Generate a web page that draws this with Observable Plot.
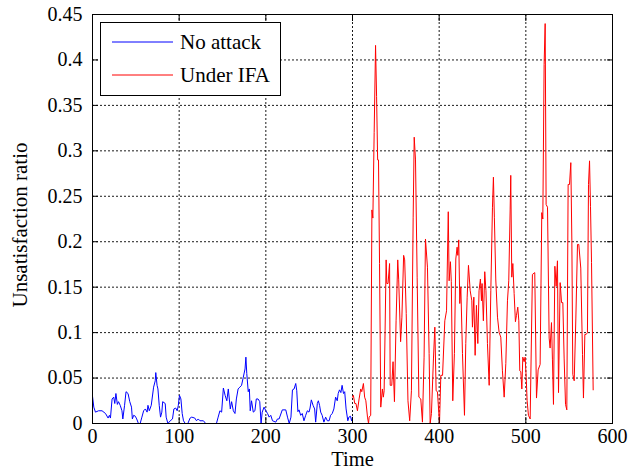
<!DOCTYPE html>
<html><head><meta charset="utf-8">
<script src="https://cdn.jsdelivr.net/npm/d3@7"></script>
<script src="https://cdn.jsdelivr.net/npm/@observablehq/plot@0.6"></script>
<style>body{margin:0;background:#fff;} svg{display:block}</style>
</head><body><div id="chart"></div>
<script>
const xTicks = [0, 100, 200, 300, 400, 500, 600];
const yTicks = [0, 0.05, 0.1, 0.15, 0.2, 0.25, 0.3, 0.35, 0.4, 0.45];
const seriesNames = ["No attack", "Under IFA"];
const seriesColors = ["#0000ff", "#ff0000"];

const noAttackTime = [0,1.5,3.4,7,11,15,18,19.5,20.7,22.6,24.5,25.7,27,28.7,30,32,34,35,37,38.7,41,43,45,46,47.5,49.4,51,53,55,57,59,61,63,64,65.5,67.8,70.5,72.4,73,74.5,75.5,77,78.5,80,81,83.9,85,87,89.7,92.3,93.9,96,97.7,99,100.4,102,103.5,105,107,110,112.6,114.5,118,120,122,124,128,130.6,143,145,147,149,151,153,155,156.7,159,160.5,162.5,164.4,166,168,170,172,174,176,177,178,179.7,181,182,183.5,185.5,187.4,189,191,193,194.5,195.8,198,200,202,203.8,205.7,207.7,211.5,213.4,215.3,219,223,225,227,229,230.7,232.6,234.5,235.7,237,238.3,240.2,242,244,246,247.9,249.8,251,252.5,254.5,256.3,257.5,259.4,260.6,262,263.3,265,267,269,271,273,274.7,276.6,278.5,280.5,282.4,283.5,285,286.6,288,289.6,291,292.6,294.6,295.8,297.7,298.9,300];
const noAttackValue = [0.030,0.018,0.0125,0.014,0.014,0.011,0.006,0.009,0.006,0.027,0.029,0.022,0.033,0.021,0.024,0.020,0.014,0.005,0.020,0.035,0.033,0.024,0.018,0.005,0.009,0.008,0.005,0,0,0.007,0.014,0.016,0.0125,0.02,0.014,0.02,0.04,0.047,0.056,0.042,0.038,0.02,0.007,0.0125,0.024,0.022,0.007,0,0.003,0.005,0.016,0.017,0.014,0.02,0.031,0.027,0.011,0.003,0,0,0.006,0.007,0.006,0.003,0.005,0.003,0.003,0,0,0.007,0.014,0.0125,0.039,0.031,0.025,0.038,0.016,0.024,0.014,0.011,0.027,0.038,0.040,0.042,0.051,0.060,0.073,0.055,0.035,0.038,0.014,0.025,0.0125,0.014,0.027,0.027,0.024,0,0.0125,0.018,0.014,0.011,0.007,0.009,0.003,0.0015,0.005,0.005,0.015,0.015,0.007,0,0.007,0.037,0.038,0.044,0.036,0.013,0.015,0.009,0.011,0.003,0.009,0.014,0.0125,0.017,0.026,0.02,0.016,0.0015,0.022,0.025,0.02,0.0125,0.009,0.0015,0.007,0.003,0.003,0.009,0.011,0.016,0.029,0.025,0.033,0.037,0.034,0.042,0.033,0.035,0.016,0.003,0.007,0.008,0.003,0.007];

const ifaTime = [300,301,302.6,304,305.7,307.6,309.5,310.7,312.6,314,315.4,317.3,318.5,319.2,321,322.4,323.5,325,326.6,327.8,329,330,331.2,332.6,334.5,335.6,336.5,337.6,338.8,339.6,341,342.8,343.5,345.3,346.8,348.4,350.3,352.2,353.3,355.5,357,359,360.2,362,364,366,368,370,371.2,372.7,374.6,376.6,378.8,380.7,382.6,384.2,386.5,388.4,389.6,391.1,393.4,395,396.5,398,400.4,401.9,403.9,406.5,408.5,410.5,411.5,413,414,415.7,417.6,419.2,420.7,421.5,422.6,423.8,425,426.9,429.2,430.7,432.3,433.8,435.8,437.7,438.4,440,441.5,443,444.6,446,447.6,448.8,449.5,451,452.6,454,455.7,457.7,459.6,461.5,462.6,463.7,465.3,467.3,469.2,471.1,473,475,476.9,478.8,480.3,481.9,482.6,483.8,485,486.5,488,489.2,490.7,491.9,493,494.2,495.4,496.5,498,499.2,500.4,501.5,503,505,507.6,510.3,512.3,514.2,516.5,518.4,519.6,521.1,522.3,523.4,525,526.9,528,529.6,530.7,531.9,533.5,535,536.5,537.7,539.6,541.2,542.7,544.2,545.8,547.3,548.8,550.4,551.9,553.1,554.2,555.8,557.7,559.6,561.1,563.4,565.4,566.5,568.1,569.6,571.1,572.3,573.5,574.6,575.8,577.7];
const ifaValue = [0.029,0.031,0.022,0.022,0.014,0.027,0.038,0.035,0.044,0.029,0.025,0.007,0,0.007,0.009,0.235,0.226,0.32,0.416,0.36,0.29,0.29,0.176,0.018,0.038,0.029,0.036,0.102,0.18,0.154,0.154,0.176,0.042,0.042,0.068,0.024,0.113,0.18,0.158,0.09,0.117,0.185,0.18,0.121,0.025,0.003,0.036,0.227,0.315,0.29,0.161,0.029,0.027,0.0015,0.073,0.203,0.172,0.077,0,0.011,0.071,0.106,0.036,0.035,0,0.053,0.053,0.113,0.124,0.233,0.157,0.178,0.156,0.025,0.077,0.181,0.194,0.185,0.202,0.132,0.15,0.077,0.009,0.088,0.139,0.174,0.146,0.135,0.106,0.139,0.075,0.13,0.088,0.146,0.159,0.135,0.154,0.113,0.167,0.146,0.088,0.042,0.146,0.238,0.271,0.227,0.159,0.117,0.1,0.095,0.058,0.029,0.066,0.135,0.157,0.235,0.273,0.161,0.176,0.143,0.112,0.119,0.128,0.113,0.058,0.057,0.038,0.073,0.068,0.073,0.051,0.025,0.009,0.005,0.164,0.166,0.028,0.059,0.065,0.232,0.225,0.395,0.44,0.241,0.238,0.094,0.083,0.111,0.07,0.021,0.173,0.151,0.179,0.034,0.155,0.133,0.133,0.072,0.021,0.015,0.263,0.263,0.287,0.201,0.054,0.047,0.115,0.197,0.197,0.171,0.076,0.028,0.098,0.098,0.1,0.263,0.289,0.239,0.177,0.037];

const noAttack = noAttackTime.map((t, i) => ({t, v: noAttackValue[i]}));
const ifa = ifaTime.map((t, i) => ({t, v: ifaValue[i]}));

const fmt = d => String(+d.toFixed(2));
const FONT = "'Liberation Serif', 'Times New Roman', serif";
const grid = {stroke: "#000", strokeOpacity: 1, strokeWidth: 0.9, strokeDasharray: "2,2"};

const chart = Plot.plot({
  width: 629, height: 468,
  marginLeft: 92, marginRight: 17, marginTop: 14, marginBottom: 45,
  style: {fontFamily: FONT, fontSize: "20px", background: "#fff", color: "#000"},
  x: {domain: [0, 600]},
  y: {domain: [0, 0.45]},
  marks: [
    Plot.gridX(xTicks, grid),
    Plot.gridY(yTicks, grid),
    Plot.line(noAttack, {x: "t", y: "v", stroke: seriesColors[0], strokeWidth: 1}),
    Plot.line(ifa, {x: "t", y: "v", stroke: seriesColors[1], strokeWidth: 1}),
    Plot.axisX(xTicks, {anchor: "bottom", tickSize: 0, tickPadding: 5, tickFormat: fmt,
      label: "Time", labelAnchor: "center", labelOffset: 42, labelArrow: "none"}),
    Plot.axisY(yTicks, {anchor: "left", tickSize: 0, tickPadding: 10, tickFormat: fmt,
      label: "Unsatisfaction ratio", labelAnchor: "center", labelOffset: 80, labelArrow: "none"}),
    Plot.axisX(xTicks, {anchor: "bottom", tickSize: 6, dy: -6, tickFormat: () => "", label: null}),
    Plot.axisX(xTicks, {anchor: "top", tickSize: 6, dy: 6, tickFormat: () => "", label: null}),
    Plot.axisY(yTicks, {anchor: "left", tickSize: 6, dx: 6, tickFormat: () => "", label: null}),
    Plot.axisY(yTicks, {anchor: "right", tickSize: 6, dx: -6, tickFormat: () => "", label: null}),
    Plot.frame({stroke: "#000", strokeWidth: 1})
  ]
});
document.getElementById("chart").appendChild(chart);

// axis label sizes / position
d3.select(chart).selectAll('g[aria-label="x-axis label"] text')
  .style("font-size", "20.5px");
d3.select(chart).selectAll('g[aria-label="y-axis label"] text')
  .style("font-size", "21px");
d3.select(chart).selectAll('g[aria-label="y-axis label"]')
  .attr("transform", function() { return (this.getAttribute("transform") || "") + " translate(0,6)"; });

// legend box
const svg = d3.select(chart);
const lg = svg.append("g");
lg.append("rect").attr("x", 100.5).attr("y", 22.5).attr("width", 180).attr("height", 73)
  .attr("fill", "#fff").attr("stroke", "#000").attr("stroke-width", 1);
seriesNames.forEach((name, i) => {
  const y = 42 + i * 33;
  lg.append("line").attr("x1", 112).attr("x2", 173).attr("y1", y).attr("y2", y)
    .attr("stroke", seriesColors[i]).attr("stroke-width", 1);
  lg.append("text").attr("x", 180).attr("y", y).attr("dy", "0.35em")
    .style("font-family", FONT).style("font-size", "21px").style("text-anchor", "start")
    .attr("fill", "#000").text(name);
});
</script></body></html>
